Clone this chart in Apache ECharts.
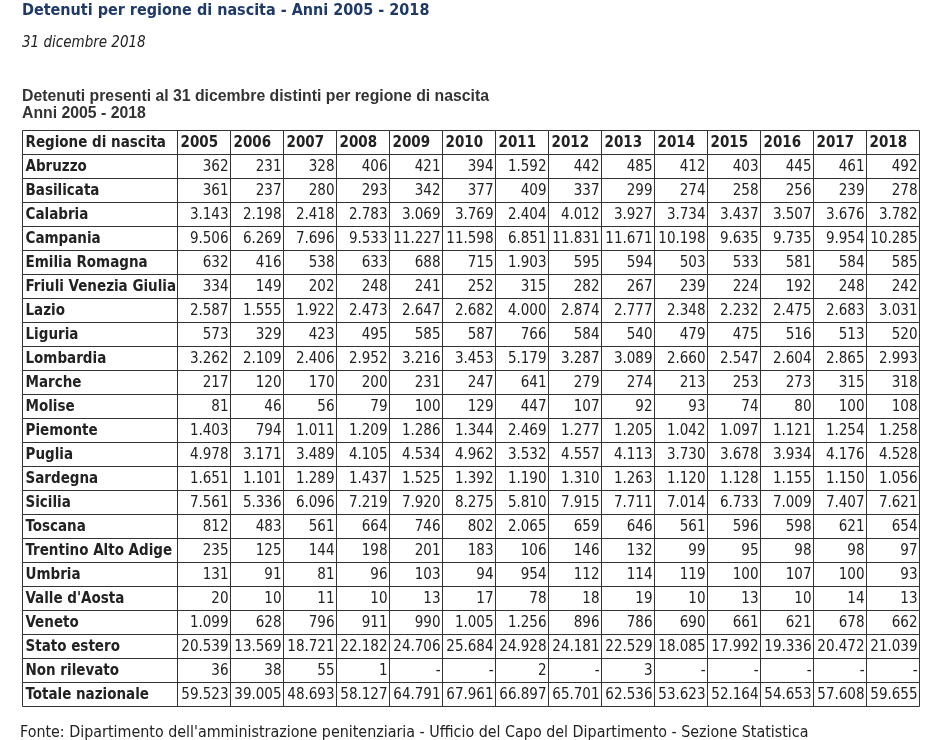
<!DOCTYPE html>
<html>
<head>
    <meta charset="UTF-8">
    <title>Detenuti per regione di nascita</title>
    <script src="https://cdn.jsdelivr.net/npm/echarts@6/dist/echarts.min.js"></script>
    <style>
        html, body {margin: 0; padding: 0; background: #fff;}
        #tabella {width: 931px; height: 740px;}
    </style>
</head>
<body>

<div id="tabella"></div>

<script>
    var intestazione = 'Regione di nascita';
    var anni = ['2005', '2006', '2007', '2008', '2009', '2010', '2011', '2012', '2013', '2014', '2015', '2016', '2017', '2018'];
    var regioni = ['Abruzzo', 'Basilicata', 'Calabria', 'Campania', 'Emilia Romagna', 'Friuli Venezia Giulia', 'Lazio',
        'Liguria', 'Lombardia', 'Marche', 'Molise', 'Piemonte', 'Puglia', 'Sardegna', 'Sicilia', 'Toscana',
        'Trentino Alto Adige', 'Umbria', "Valle d'Aosta", 'Veneto', 'Stato estero', 'Non rilevato', 'Totale nazionale'];
    // una riga per regione, stesso ordine di regioni; null = '-'
    var valori = [
        [362, 231, 328, 406, 421, 394, 1592, 442, 485, 412, 403, 445, 461, 492],
        [361, 237, 280, 293, 342, 377, 409, 337, 299, 274, 258, 256, 239, 278],
        [3143, 2198, 2418, 2783, 3069, 3769, 2404, 4012, 3927, 3734, 3437, 3507, 3676, 3782],
        [9506, 6269, 7696, 9533, 11227, 11598, 6851, 11831, 11671, 10198, 9635, 9735, 9954, 10285],
        [632, 416, 538, 633, 688, 715, 1903, 595, 594, 503, 533, 581, 584, 585],
        [334, 149, 202, 248, 241, 252, 315, 282, 267, 239, 224, 192, 248, 242],
        [2587, 1555, 1922, 2473, 2647, 2682, 4000, 2874, 2777, 2348, 2232, 2475, 2683, 3031],
        [573, 329, 423, 495, 585, 587, 766, 584, 540, 479, 475, 516, 513, 520],
        [3262, 2109, 2406, 2952, 3216, 3453, 5179, 3287, 3089, 2660, 2547, 2604, 2865, 2993],
        [217, 120, 170, 200, 231, 247, 641, 279, 274, 213, 253, 273, 315, 318],
        [81, 46, 56, 79, 100, 129, 447, 107, 92, 93, 74, 80, 100, 108],
        [1403, 794, 1011, 1209, 1286, 1344, 2469, 1277, 1205, 1042, 1097, 1121, 1254, 1258],
        [4978, 3171, 3489, 4105, 4534, 4962, 3532, 4557, 4113, 3730, 3678, 3934, 4176, 4528],
        [1651, 1101, 1289, 1437, 1525, 1392, 1190, 1310, 1263, 1120, 1128, 1155, 1150, 1056],
        [7561, 5336, 6096, 7219, 7920, 8275, 5810, 7915, 7711, 7014, 6733, 7009, 7407, 7621],
        [812, 483, 561, 664, 746, 802, 2065, 659, 646, 561, 596, 598, 621, 654],
        [235, 125, 144, 198, 201, 183, 106, 146, 132, 99, 95, 98, 98, 97],
        [131, 91, 81, 96, 103, 94, 954, 112, 114, 119, 100, 107, 100, 93],
        [20, 10, 11, 10, 13, 17, 78, 18, 19, 10, 13, 10, 14, 13],
        [1099, 628, 796, 911, 990, 1005, 1256, 896, 786, 690, 661, 621, 678, 662],
        [20539, 13569, 18721, 22182, 24706, 25684, 24928, 24181, 22529, 18085, 17992, 19336, 20472, 21039],
        [36, 38, 55, 1, null, null, 2, null, 3, null, null, null, null, null],
        [59523, 39005, 48693, 58127, 64791, 67961, 66897, 65701, 62536, 53623, 52164, 54653, 57608, 59655]
    ];

    var righe = [intestazione].concat(regioni);
    var fontCella = '"DejaVu Sans Condensed", "DejaVu Sans", sans-serif';
    var coloreTesto = '#222';
    var coloreBordo = '#333';

    // 9506 -> "9.506"
    function formatta(n) {
        if (n === null) return '-';
        return String(n).replace(/\B(?=(\d{3})+(?!\d))/g, '.');
    }

    var datiNomi = [];
    for (var i = 0; i < righe.length; i++) {
        datiNomi.push([0, i]);
    }
    var datiValori = [];
    for (var r = 0; r < righe.length; r++) {
        for (var c = 0; c < anni.length; c++) {
            datiValori.push([c, r]);
        }
    }

    function cella(api, testo, allinea, grassetto) {
        var p = api.coord([api.value(0), api.value(1)]);
        var s = api.size([1, 1]);
        var x0 = Math.round(p[0] - s[0] / 2) + 0.5;
        var y0 = Math.round(p[1] - s[1] / 2) + 0.5;
        return {
            type: 'group',
            children: [{
                type: 'rect',
                shape: {x: x0, y: y0, width: Math.round(s[0]), height: Math.round(s[1])},
                style: {fill: 'none', stroke: coloreBordo, lineWidth: 1}
            }, {
                type: 'text',
                style: {
                    text: testo,
                    x: allinea === 'right' ? x0 + Math.round(s[0]) - 2 : x0 + 3,
                    y: y0 + s[1] / 2 + 0.5,
                    textAlign: allinea,
                    textVerticalAlign: 'middle',
                    font: (grassetto ? 'bold ' : '') + '15px ' + fontCella,
                    fill: coloreTesto
                }
            }]
        };
    }

    var myChart = echarts.init(document.getElementById('tabella'), null, {renderer: 'canvas'});

    var option = {
        backgroundColor: '#fff',
        animation: false,
        title: [{
            text: 'Detenuti per regione di nascita - Anni 2005 - 2018',
            left: 22, top: 3, padding: 0,
            textStyle: {color: '#1f3a68', fontSize: 16, fontWeight: 'bold', fontFamily: fontCella}
        }, {
            text: '31 dicembre 2018',
            left: 22, top: 36, padding: 0,
            textStyle: {color: coloreTesto, fontSize: 15, fontStyle: 'italic', fontWeight: 'normal', fontFamily: fontCella}
        }, {
            text: 'Detenuti presenti al 31 dicembre distinti per regione di nascita\nAnni 2005 - 2018',
            left: 22, top: 88, padding: 0,
            textStyle: {color: '#333', fontSize: 15.8, fontWeight: 'bold', lineHeight: 17, fontFamily: 'Liberation Sans'}
        }, {
            text: "Fonte: Dipartimento dell'amministrazione penitenziaria - Ufficio del Capo del Dipartimento - Sezione Statistica",
            left: 20, top: 725, padding: 0,
            textStyle: {color: coloreTesto, fontSize: 15.9, fontWeight: 'normal', fontFamily: fontCella}
        }],
        grid: [
            {left: 22, top: 130, width: 155, height: 576},
            {left: 177, top: 130, width: 742, height: 576}
        ],
        xAxis: [
            {gridIndex: 0, type: 'category', data: [intestazione], show: false},
            {gridIndex: 1, type: 'category', data: anni, show: false}
        ],
        yAxis: [
            {gridIndex: 0, type: 'category', data: righe, inverse: true, show: false},
            {gridIndex: 1, type: 'category', data: righe, inverse: true, show: false}
        ],
        series: [{
            type: 'custom',
            xAxisIndex: 0,
            yAxisIndex: 0,
            data: datiNomi,
            renderItem: function (params, api) {
                var riga = api.value(1);
                return cella(api, righe[riga], 'left', true);
            }
        }, {
            type: 'custom',
            xAxisIndex: 1,
            yAxisIndex: 1,
            data: datiValori,
            renderItem: function (params, api) {
                var col = api.value(0), riga = api.value(1);
                if (riga === 0) {
                    return cella(api, anni[col], 'left', true);
                }
                return cella(api, formatta(valori[riga - 1][col]), 'right', false);
            }
        }]
    };
    myChart.setOption(option);
</script>

</body>
</html>
